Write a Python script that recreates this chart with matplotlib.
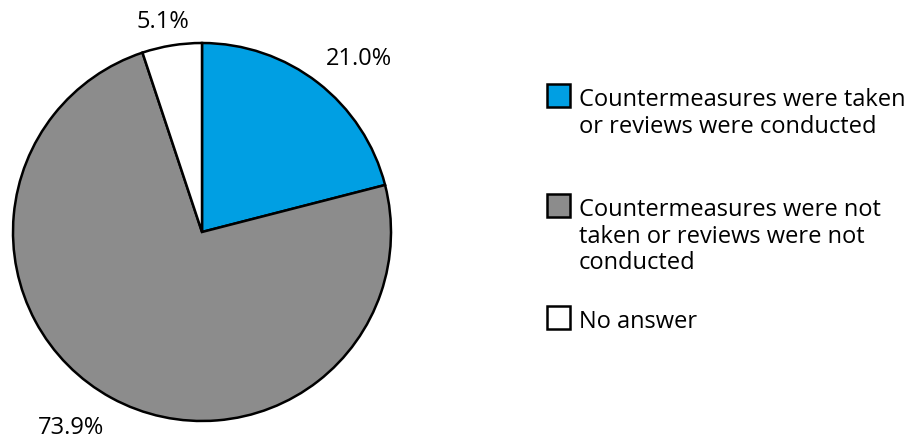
import matplotlib.pyplot as plt
from matplotlib.patches import Rectangle

plt.rcParams['font.family'] = ['Open Sans', 'DejaVu Sans']

categories = [
    "Countermeasures were taken\nor reviews were conducted",
    "Countermeasures were not\ntaken or reviews were not\nconducted",
    "No answer",
]
shares = [21.0, 73.9, 5.1]
colors = ['#009FE3', '#8C8C8C', '#FFFFFF']

W, H = 909, 439
fig = plt.figure(figsize=(W / 100, H / 100), dpi=100)
# axes in pixel units, y measured from the bottom
ax = fig.add_axes([0, 0, 1, 1])

cx, cy, r = 202, H - 233, 189
ax.pie(shares, colors=colors, startangle=90, counterclock=False,
       center=(cx, cy), radius=r, frame=True,
       wedgeprops=dict(edgecolor='black', linewidth=1.8))
ax.set_xlim(0, W)
ax.set_ylim(0, H)
ax.set_aspect('equal')
ax.axis('off')

# percentage labels
label_pos = [(359, H - 59), (71, H - 428), (163, H - 22)]
for v, (x, y) in zip(shares, label_pos):
    ax.text(x, y, f"{v:.1f}%", ha='center', va='center', fontsize=17)

# legend drawn by hand
box_tops = [85, 195, 307]
for lab, c, top in zip(categories, colors, box_tops):
    ax.add_patch(Rectangle((547, H - top - 23), 23, 23, facecolor=c,
                           edgecolor='black', linewidth=1.8))
    ax.text(579, H - top - 3, lab, ha='left', va='top', fontsize=17,
            linespacing=1.15)

fig.savefig('out.png', dpi=100)
